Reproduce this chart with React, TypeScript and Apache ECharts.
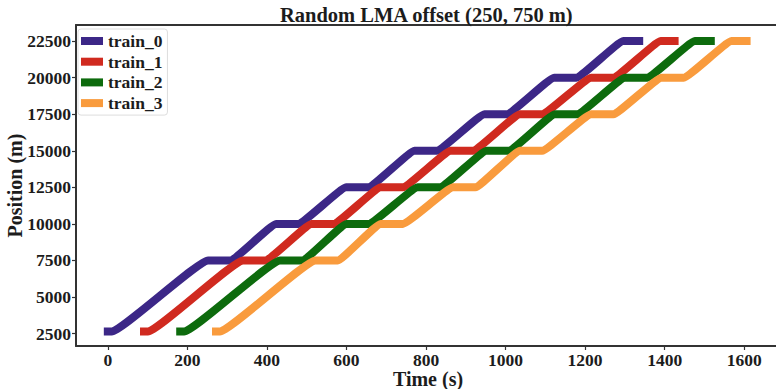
import React, { useEffect, useRef } from "react";
import * as echarts from "echarts";

const seriesNames = ["train_0", "train_1", "train_2", "train_3"];
const colors = ["#3c2787", "#d02a1f", "#0d6b0d", "#f99b3d"];

// positions (m) of keypoints along each trajectory (start, plateaus, end)
const positions = [2650, 2650, 7500, 7500, 10000, 10000, 12500, 12500, 15000, 15000, 17500, 17500, 20000, 20000, 22500, 22500];

// times (s) of the keypoints
const train0Times = [0, 10, 252, 308, 423, 479, 599, 655, 771, 827, 947, 1003, 1122, 1178, 1296, 1336];
const train1Times = [91, 101, 340, 396, 512, 568, 686, 742, 862, 918, 1036, 1092, 1215, 1271, 1390, 1425];
const train2Times = [182, 192, 433, 489, 600, 656, 779, 835, 952, 1008, 1124, 1180, 1300, 1356, 1476, 1516];
const train3Times = [272, 282, 522, 578, 686, 742, 868, 924, 1036, 1092, 1215, 1271, 1392, 1448, 1568, 1606];

const xTicks = [0, 200, 400, 600, 800, 1000, 1200, 1400, 1600];
const yTicks = [2500, 5000, 7500, 10000, 12500, 15000, 17500, 20000, 22500];

const FONT = "'Liberation Serif', 'Times New Roman', 'DejaVu Serif', serif";
const INK = "#1c1c1c";
const SPINE = "#333333";

export default function App() {
  const ref = useRef<HTMLDivElement>(null);

  useEffect(() => {
    if (!ref.current) return;
    const chart = echarts.init(ref.current, undefined, { renderer: "svg" });
    const allTimes = [train0Times, train1Times, train2Times, train3Times];

    const series = seriesNames.map((name, i) => ({
      name,
      type: "line",
      xAxisIndex: 0,
      yAxisIndex: 0,
      data: allTimes[i].map((t, k) => [t, positions[k]]),
      showSymbol: false,
      smooth: 0.1,
      smoothMonotone: "x",
      lineStyle: { width: 8, color: colors[i], cap: "square", join: "round" },
      itemStyle: { color: colors[i] },
      emphasis: { disabled: true },
    }));

    chart.setOption({
      animation: false,
      title: {
        text: "Random LMA offset (250, 750 m)",
        left: 280,
        top: 4,
        padding: 0,
        textStyle: { fontFamily: FONT, fontWeight: "bold", fontSize: 20.5, color: INK },
      },
      legend: {
        orient: "vertical",
        left: 78,
        top: 29,
        padding: [3, 5, 3, 3],
        itemGap: 2.7,
        itemWidth: 22,
        itemHeight: 8,
        icon: "rect",
        backgroundColor: "rgba(255,255,255,0.85)",
        borderColor: "#dddddd",
        borderWidth: 1,
        borderRadius: 3,
        textStyle: { fontFamily: FONT, fontWeight: "bold", fontSize: 17.5, color: INK, lineHeight: 17 },
        data: seriesNames,
      },
      grid: { left: 76, top: 25, width: 704, height: 321, containLabel: false, outerBoundsMode: "none" },
      xAxis: [
        {
          type: "value",
          min: -80,
          max: 1690,
          name: "Time (s)",
          nameLocation: "middle",
          nameGap: 23,
          nameMoveOverlap: false,
          nameTextStyle: { fontFamily: FONT, fontWeight: "bold", fontSize: 20, color: INK, lineHeight: 20 },
          axisLine: { show: true, onZero: false, lineStyle: { color: SPINE, width: 2 } },
          axisTick: { show: true, inside: false, length: 4, customValues: xTicks, lineStyle: { color: SPINE, width: 1.2 } },
          axisLabel: {
            customValues: xTicks,
            margin: 5,
            formatter: (v: number) => String(v),
            fontFamily: FONT,
            fontWeight: "bold",
            fontSize: 17.5,
            lineHeight: 17,
            color: INK,
          },
          splitLine: { show: false },
        },
        {
          type: "value",
          position: "top",
          min: -80,
          max: 1690,
          axisLine: { show: true, onZero: false, lineStyle: { color: SPINE, width: 2 } },
          axisTick: { show: false },
          axisLabel: { show: false },
          splitLine: { show: false },
        },
      ],
      yAxis: {
        type: "value",
        min: 1650,
        max: 23600,
        name: "Position (m)",
        nameLocation: "middle",
        nameGap: 51,
        nameMoveOverlap: false,
        nameTextStyle: { fontFamily: FONT, fontWeight: "bold", fontSize: 20, color: INK },
        axisLine: { show: true, onZero: false, lineStyle: { color: SPINE, width: 2 } },
        axisTick: { show: true, inside: false, length: 4, customValues: yTicks, lineStyle: { color: SPINE, width: 1.2 } },
        axisLabel: {
          customValues: yTicks,
          margin: 5,
          formatter: (v: number) => String(v),
          fontFamily: FONT,
          fontWeight: "bold",
          fontSize: 17.5,
          color: INK,
        },
        splitLine: { show: false },
      },
      series,
    });

    return () => chart.dispose();
  }, []);

  return <div ref={ref} style={{ width: 776, height: 389, position: "absolute", left: 0, top: 0 }} />;
}
